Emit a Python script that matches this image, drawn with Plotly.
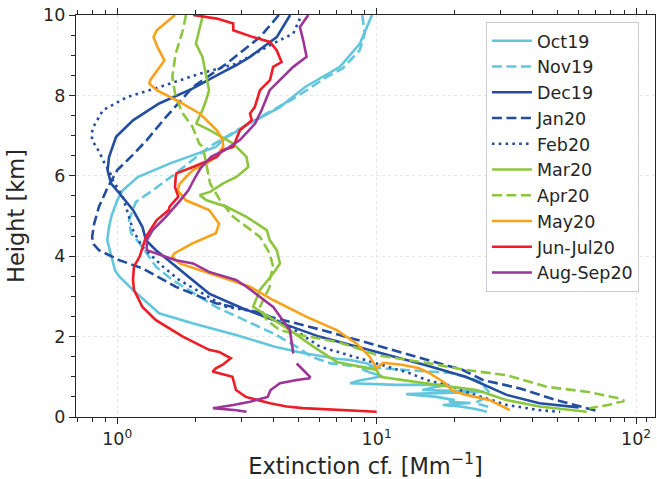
import plotly.graph_objects as go

# ---------------- data (height [km], extinction [Mm^-1]) ----------------
oct19_h = [10, 9.29, 8.71, 8.21, 7.71, 7.30, 6.93, 6.72, 6.31, 5.97, 5.64, 5.39, 5.0, 4.73, 4.40, 3.90, 3.65, 3.49, 3.16, 2.58, 2.33, 2.04, 1.75, 1.59, 1.45, 1.42, 1.33, 1.25, 1.18, 1.10, 1.02, 0.97, 0.90, 0.84, 0.80, 0.80, 0.75, 0.67, 0.63, 0.57, 0.50, 0.42, 0.38, 0.35, 0.30, 0.26, 0.20, 0.13]
oct19_x = [9.6, 8.62, 7.22, 5.3, 4.24, 3.24, 2.6, 2.4, 1.6, 1.2, 1.05, 1.0, 0.95, 0.93, 0.915, 0.96, 0.98, 1.02, 1.15, 1.45, 1.95, 2.87, 4.05, 5.2, 7.0, 7.9, 9.2, 9.7, 8.8, 9.5, 10.5, 9.7, 8.5, 7.9, 12, 19, 17, 15, 26, 13, 17, 20, 19, 23, 18, 21, 24, 26.6]

nov19_h = [10, 9.54, 9.12, 8.67, 8.46, 7.96, 7.55, 7.22, 6.72, 6.06, 5.64, 5.35, 4.90, 4.57, 4.32, 3.74, 3.41, 3.16, 2.74, 2.24, 2.08, 1.75, 1.5, 1.34, 1.25, 1.20, 1.15, 1.10, 1.0, 0.88, 0.63, 0.46, 0.35, 0.25]
nov19_x = [8.8, 9.0, 8.6, 7.4, 6.42, 4.9, 3.77, 3.05, 2.26, 1.68, 1.37, 1.18, 1.11, 1.13, 1.22, 1.41, 1.63, 1.89, 2.40, 3.53, 4.0, 4.9, 5.6, 6.6, 8.5, 11, 15, 19, 22, 25, 27, 26, 24, 27]

dec19_h = [10, 9.45, 8.96, 8.75, 8.54, 8.17, 7.80, 7.38, 6.97, 6.64, 6.47, 6.14, 5.81, 5.56, 5.15, 4.73, 4.40, 4.15, 3.74, 3.41, 3.07, 2.70, 2.41, 2.0, 1.62, 1.29, 1.0, 0.92, 0.55, 0.34, 0.24]
dec19_x = [4.64, 4.12, 3.25, 2.87, 2.49, 1.95, 1.45, 1.15, 0.99, 0.95, 0.93, 0.918, 0.946, 1.02, 1.15, 1.25, 1.29, 1.41, 1.68, 1.95, 2.26, 3.05, 4.0, 6.0, 10, 15.5, 22, 23.6, 31.7, 42.4, 60]

jan20_h = [10, 9.45, 8.79, 8.21, 7.46, 6.89, 6.5, 6.14, 5.72, 5.23, 4.81, 4.48, 4.3, 4.15, 3.90, 3.70, 3.24, 2.83, 2.58, 2.49, 2.16, 1.83, 1.46, 1.17, 0.92, 0.71, 0.42, 0.13]
jan20_x = [4.2, 3.55, 2.64, 1.96, 1.54, 1.3, 1.14, 1.0, 0.92, 0.85, 0.815, 0.80, 0.81, 0.85, 1.02, 1.25, 1.68, 2.40, 3.64, 3.9, 6.2, 9.4, 14.7, 21.5, 25.7, 35.7, 49.3, 72.5]

feb20_h = [9.91, 9.54, 9.29, 8.79, 8.54, 8.21, 7.96, 7.63, 7.22, 7.06, 6.89, 6.55, 6.39, 6.06, 5.89, 5.48, 4.98, 4.65, 4.23, 3.74, 3.41, 2.74, 2.62, 2.3, 1.75, 1.25, 1.09, 0.92, 0.75, 0.67, 0.30, 0.17, 0.13]
feb20_x = [5.06, 4.77, 3.99, 2.88, 2.08, 1.46, 1.09, 0.88, 0.81, 0.797, 0.80, 0.86, 0.88, 0.94, 0.96, 1.05, 1.11, 1.15, 1.25, 1.50, 1.73, 2.62, 3.42, 4.5, 6.04, 10.9, 13.4, 15.6, 19.7, 21, 31.7, 42.4, 51]

mar20_h = [10, 9.62, 9.29, 8.96, 8.54, 8.13, 7.88, 7.63, 7.38, 7.30, 7.13, 6.80, 6.47, 6.22, 5.97, 5.81, 5.60, 5.52, 5.39, 5.23, 4.98, 4.65, 4.40, 4.15, 3.82, 3.57, 3.16, 2.74, 2.58, 2.16, 1.75, 1.37, 1.17, 1.0, 0.80, 0.67, 0.42, 0.26, 0.13]
mar20_x = [2.14, 2.07, 2.01, 2.13, 2.20, 2.26, 2.20, 2.13, 2.04, 2.02, 2.28, 2.80, 3.15, 3.20, 2.88, 2.56, 2.28, 2.08, 2.21, 2.64, 3.15, 3.77, 3.87, 4.12, 4.24, 3.99, 3.55, 3.34, 3.66, 4.63, 5.70, 7.02, 10, 10.3, 17.0, 24.3, 31.7, 42.4, 64.5]

apr20_h = [10, 9.62, 9.04, 8.46, 7.96, 7.55, 7.22, 6.80, 6.72, 6.22, 5.81, 5.39, 4.98, 4.48, 4.07, 3.74, 3.41, 3.24, 2.74, 2.41, 2.16, 2.04, 1.87, 1.75, 1.54, 1.33, 1.17, 1.04, 0.75, 0.63, 0.46, 0.40, 0.30, 0.22]
apr20_x = [1.84, 1.79, 1.68, 1.63, 1.68, 1.79, 1.95, 2.07, 2.14, 2.21, 2.28, 2.49, 2.80, 3.55, 3.87, 3.99, 3.87, 3.87, 3.55, 3.77, 4.24, 5.06, 7.0, 8.1, 10, 16.1, 22, 31.7, 45.3, 64.5, 86.8, 90, 78, 66]

may20_h = [10, 9.62, 9.45, 9.2, 8.87, 8.6, 8.38, 8.29, 8.13, 7.88, 7.55, 7.13, 6.89, 6.72, 6.47, 6.31, 6.14, 5.97, 5.80, 5.64, 5.39, 5.15, 4.81, 4.57, 4.32, 4.07, 3.99, 3.82, 3.49, 3.24, 2.91, 2.49, 2.16, 1.83, 1.50, 1.21, 1.35, 1.30, 1.22, 1.09, 0.84, 0.65, 0.55, 0.42, 0.17]
may20_x = [1.67, 1.42, 1.38, 1.43, 1.52, 1.42, 1.34, 1.33, 1.42, 1.69, 2.08, 2.42, 2.55, 2.56, 2.40, 2.21, 1.96, 1.84, 1.74, 1.71, 1.84, 2.26, 2.47, 2.40, 1.95, 1.66, 1.63, 1.74, 2.49, 3.25, 3.99, 5.37, 7.02, 8.35, 9.4, 10, 10.6, 12.5, 14.5, 16, 18.4, 19.6, 22.2, 27.3, 32.6]

junjul20_h = [10, 9.91, 9.79, 9.62, 9.45, 9.33, 9.12, 8.83, 8.71, 8.38, 8.13, 7.88, 7.71, 7.55, 7.38, 7.13, 6.72, 6.64, 6.47, 6.22, 6.06, 5.97, 5.72, 5.48, 5.23, 5.15, 4.90, 4.48, 4.23, 3.99, 3.74, 3.41, 3.16, 2.74, 2.41, 2.0, 1.67, 1.62, 1.46, 1.30, 1.21, 1.13, 1.0, 0.85, 0.67, 0.50, 0.34, 0.26, 0.22, 0.13]
junjul20_x = [1.96, 2.42, 2.80, 2.80, 3.34, 3.88, 4.12, 4.30, 3.99, 3.88, 3.55, 3.45, 3.39, 3.25, 3.3, 2.97, 2.80, 2.55, 2.42, 1.96, 1.69, 1.68, 1.67, 1.72, 1.59, 1.58, 1.42, 1.29, 1.25, 1.22, 1.16, 1.15, 1.16, 1.25, 1.41, 1.79, 2.26, 2.47, 2.74, 2.55, 2.40, 2.33, 2.78, 2.82, 2.87, 3.13, 3.88, 4.5, 5.19, 10]

augsep20_h = [10, 9.70, 9.37, 8.96, 8.71, 8.46, 8.13, 7.63, 7.30, 6.89, 6.64, 6.47, 6.2, 5.97, 5.64, 5.39, 4.98, 4.65, 4.40, 4.15, 3.90, 3.82, 3.61, 3.41, 3.24, 2.74, 2.16, 1.58, None, 1.33, 1.17, 1.0, 0.96, 0.92, 0.84, 0.71, 0.67, 0.50, 0.38, 0.30, 0.22, 0.17, 0.13]
augsep20_x = [5.45, 5.06, 5.21, 5.37, 4.77, 4.37, 3.87, 3.6, 3.4, 2.97, 2.6, 2.3, 2.1, 2.0, 1.88, 1.75, 1.54, 1.37, 1.30, 1.30, 1.68, 1.96, 2.26, 2.87, 3.15, 3.99, 4.63, 4.77, None, 4.92, 5.21, 5.53, 5.5, 4.92, 4.24, 4.0, 3.9, 3.8, 3.25, 2.8, 2.34, 2.88, 3.15]

series_names = ["Oct19", "Nov19", "Dec19", "Jan20", "Feb20", "Mar20", "Apr20", "May20", "Jun-Jul20", "Aug-Sep20"]
series_x = [oct19_x, nov19_x, dec19_x, jan20_x, feb20_x, mar20_x, apr20_x, may20_x, junjul20_x, augsep20_x]
series_h = [oct19_h, nov19_h, dec19_h, jan20_h, feb20_h, mar20_h, apr20_h, may20_h, junjul20_h, augsep20_h]

x_tick_vals = [1, 10, 100]
x_tick_text = ["10<sup>0</sup>", "10<sup>1</sup>", "10<sup>2</sup>"]
x_minor_vals = [0.7, 0.8, 0.9] + [m * d for d in (1, 10) for m in range(2, 10)] + [110]
y_tick_vals = [0, 2, 4, 6, 8, 10]

# ---------------- styles ----------------
LBLUE = "#62c6dd"
DBLUE = "#234ea0"
GREEN = "#8cc63f"
ORANGE = "#f9a11b"
RED = "#ee1c25"
PURPLE = "#9c3597"
DASH = "10px,4.5px"
DOT = "2.6px,4.2px"
styles = [
    (LBLUE, "solid"), (LBLUE, DASH), (DBLUE, "solid"), (DBLUE, DASH), (DBLUE, DOT),
    (GREEN, "solid"), (GREEN, DASH), (ORANGE, "solid"), (RED, "solid"), (PURPLE, "solid"),
]

fig = go.Figure()
for name, xs, hs, (col, dash) in zip(series_names, series_x, series_h, styles):
    fig.add_trace(go.Scatter(
        x=xs, y=hs, name=name, mode="lines",
        line=dict(color=col, width=2.6, dash=dash),
        connectgaps=False,
    ))

FONT = "DejaVu Sans"
AXC = "#262626"
fig.update_layout(
    width=657, height=479,
    margin=dict(l=76, r=2, t=15, b=62),
    paper_bgcolor="white", plot_bgcolor="white",
    font=dict(family=FONT, size=17, color=AXC),
    showlegend=True,
    legend=dict(
        x=0.708, y=0.983, xanchor="left", yanchor="top",
        bgcolor="rgba(255,255,255,0.85)", bordercolor="#cccccc", borderwidth=1,
        font=dict(family=FONT, size=17.5, color=AXC),
        itemwidth=40, tracegroupgap=0,
    ),
    xaxis=dict(
        type="log", range=[-0.159, 2.073], automargin=False,
        tickvals=x_tick_vals, ticktext=x_tick_text, ticklabeloverflow="allow",
        ticks="outside", ticklen=6, tickwidth=1.2, tickcolor=AXC,
        minor=dict(tickvals=x_minor_vals, ticks="outside", ticklen=3.5, tickwidth=1, tickcolor=AXC, showgrid=False),
        showline=True, linecolor=AXC, linewidth=1.3, mirror="ticks",
        showgrid=True, gridcolor="#e6e6e6", gridwidth=1, griddash="dot",
        zeroline=False,
        tickfont=dict(size=17.5),
        title=dict(text="Extinction cf. [Mm<sup>\u22121</sup>]", font=dict(size=22.5), standoff=4),
    ),
    yaxis=dict(
        range=[0, 10], automargin=False,
        tickvals=y_tick_vals, ticklabeloverflow="allow",
        ticks="outside", ticklen=6, tickwidth=1.2, tickcolor=AXC,
        minor=dict(dtick=0.5, ticks="outside", ticklen=3.5, tickwidth=1, tickcolor=AXC, showgrid=False),
        showline=True, linecolor=AXC, linewidth=1.3, mirror=True,
        showgrid=True, gridcolor="#e6e6e6", gridwidth=1, griddash="dot",
        zeroline=False,
        tickfont=dict(size=17.5),
        title=dict(text="Height [km]", font=dict(size=22.5), standoff=12),
    ),
)

# remove the default 8px page margin so the 657x479 figure fills the window exactly
fig.write_html("out.html", config={"displayModeBar": False},
               post_script="document.body.style.margin='0px';")
